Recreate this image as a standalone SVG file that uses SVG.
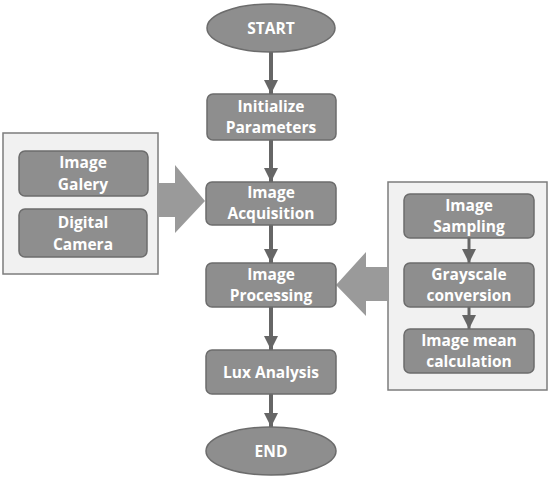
<svg xmlns="http://www.w3.org/2000/svg" width="550" height="481" viewBox="0 0 550 481">
<defs>
<style>
.node{fill:#8e8e8e;stroke:#6c6c6c;stroke-width:1.5}
.cont{fill:#f1f1f1;stroke:#7c7c7c;stroke-width:1.5}
.big{fill:#9a9a9a}
.lbl{font-family:"Open Sans","Liberation Sans",sans-serif;font-weight:bold;font-size:15.5px;fill:#ffffff;text-anchor:middle}
.conn{stroke:#666666;stroke-width:4;fill:none}
.sconn{stroke:#666666;stroke-width:3;fill:none}
</style>
<marker id="ah" markerUnits="userSpaceOnUse" markerWidth="16" markerHeight="16" viewBox="0 0 16 16" refX="14" refY="8" orient="auto">
<path d="M0,1 L14,8 L0,15 Z" fill="#666666"/>
</marker>
</defs>
<rect width="550" height="481" fill="#ffffff"/>

<g id="left-panel">
<rect class="cont" x="3" y="133" width="155" height="141"/>
<polygon class="big" points="158,183 175,183 175,165 205,201 175,233 175,217 158,217"/>
</g>
<g id="right-panel">
<rect class="cont" x="388" y="182" width="159" height="208"/>
<polygon class="big" points="388,267 366,267 366,252 336,285 366,316 366,301 388,301"/>
</g>

<g id="connectors">
<line class="conn" x1="271" y1="52" x2="271" y2="94" marker-end="url(#ah)"/>
<line class="conn" x1="271" y1="140" x2="271" y2="182" marker-end="url(#ah)"/>
<line class="conn" x1="271" y1="225" x2="271" y2="263" marker-end="url(#ah)"/>
<line class="conn" x1="271" y1="307" x2="271" y2="350" marker-end="url(#ah)"/>
<line class="conn" x1="271" y1="394" x2="271" y2="427" marker-end="url(#ah)"/>
<line class="sconn" x1="469" y1="238" x2="469" y2="263" marker-end="url(#ah)"/>
<line class="sconn" x1="469" y1="307" x2="469" y2="329" marker-end="url(#ah)"/>
</g>

<g id="start">
<ellipse class="node" cx="271" cy="28" rx="64" ry="24"/>
<text class="lbl" x="271" y="34">START</text>
</g>
<g id="init">
<rect class="node" x="207" y="94" width="129" height="46" rx="6"/>
<text class="lbl" x="271" y="112">Initialize</text>
<text class="lbl" x="271" y="133">Parameters</text>
</g>
<g id="acquisition">
<rect class="node" x="206" y="182" width="130" height="43" rx="6"/>
<text class="lbl" x="271" y="198">Image</text>
<text class="lbl" x="271" y="219">Acquisition</text>
</g>
<g id="processing">
<rect class="node" x="206" y="263" width="130" height="44" rx="6"/>
<text class="lbl" x="271" y="280">Image</text>
<text class="lbl" x="271" y="301">Processing</text>
</g>
<g id="lux">
<rect class="node" x="206" y="350" width="130" height="44" rx="6"/>
<text class="lbl" x="271" y="378">Lux Analysis</text>
</g>
<g id="end">
<ellipse class="node" cx="271" cy="451" rx="65" ry="24"/>
<text class="lbl" x="271" y="457">END</text>
</g>

<g id="gallery">
<rect class="node" x="19" y="151" width="129" height="45" rx="6"/>
<text class="lbl" x="83" y="168">Image</text>
<text class="lbl" x="83" y="190">Galery</text>
</g>
<g id="camera">
<rect class="node" x="19" y="209" width="128" height="48" rx="6"/>
<text class="lbl" x="83" y="228">Digital</text>
<text class="lbl" x="83" y="250">Camera</text>
</g>

<g id="sampling">
<rect class="node" x="404" y="194" width="130" height="44" rx="6"/>
<text class="lbl" x="469" y="211">Image</text>
<text class="lbl" x="469" y="232">Sampling</text>
</g>
<g id="grayscale">
<rect class="node" x="404" y="263" width="130" height="44" rx="6"/>
<text class="lbl" x="469" y="280">Grayscale</text>
<text class="lbl" x="469" y="301">conversion</text>
</g>
<g id="mean">
<rect class="node" x="404" y="329" width="130" height="44" rx="6"/>
<text class="lbl" x="469" y="346">Image mean</text>
<text class="lbl" x="469" y="367">calculation</text>
</g>
</svg>
